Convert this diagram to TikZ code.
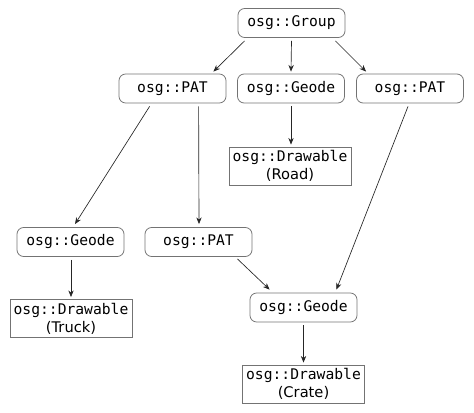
\documentclass[tikz,border=0pt]{standalone}
\usepackage{fontspec}
\setmainfont{DejaVu Sans}
\setmonofont{DejaVu Sans Mono}
\usetikzlibrary{calc,arrows.meta}
\begin{document}
\begin{tikzpicture}[x=0.75pt,y=-0.75pt,
  nd/.style={draw=black!55, line width=0.6pt, rounded corners=5pt, minimum width=80.25pt, minimum height=21.75pt, inner sep=0pt, font=\ttfamily\fontsize{11pt}{13.5pt}\selectfont},
  dr/.style={draw=black!55, line width=0.6pt, minimum width=91.5pt, minimum height=28.5pt, inner sep=0pt, align=center, font=\fontsize{11pt}{13.5pt}\selectfont},
  arr/.style={draw=black!85, line width=0.5pt, -{Stealth[length=5pt,width=4pt]}}]
\useasboundingbox (0,0) rectangle (474,413);
\node[nd] (grp) at (291.5,23) {osg::Group};
\node[nd] (pat1) at (172.5,88.5) {osg::PAT};
\node[nd] (geo1) at (291,88.5) {osg::Geode};
\node[nd] (pat2) at (410,88.5) {osg::PAT};
\node[dr] (road) at (290,166) {\texttt{osg::Drawable}\\(Road)};
\node[nd] (geo2) at (70.5,242) {osg::Geode};
\node[nd] (pat3) at (198.5,242) {osg::PAT};
\node[dr] (truck) at (71,318.5) {\texttt{osg::Drawable}\\(Truck)};
\node[nd] (geo3) at (303.5,307.5) {osg::Geode};
\node[dr] (crate) at (303.5,384) {\texttt{osg::Drawable}\\(Crate)};
\draw[arr] ($(grp.south west)+(7,3)$) -- ($(pat1.north east)+(-13,-2)$);
\draw[arr] ($(grp.south)+(0,3)$) -- ($(geo1.north)+(0,-2)$);
\draw[arr] ($(grp.south east)+(-10,3)$) -- ($(pat2.north west)+(10,-2)$);
\draw[arr] ($(pat1.south west)+(31,3)$) -- ($(geo2.north)+(4.5,-3)$);
\draw[arr] ($(pat1.south west)+(80,3)$) -- ($(pat3.north)+(0.5,-3)$);
\draw[arr] ($(pat2.south)+(-2,3)$) -- ($(geo3.north east)+(-21,-3)$);
\draw[arr] ($(pat3.south east)+(-15,2)$) -- ($(geo3.north west)+(20,-3)$);
\draw[arr] ($(geo1.south)+(0,3)$) -- ($(road.north)+(1,-2)$);
\draw[arr] ($(geo2.south)+(0.5,3)$) -- ($(truck.north)+(0,-2)$);
\draw[arr] ($(geo3.south)+(0,3)$) -- ($(crate.north)+(0,-2)$);
\end{tikzpicture}
\end{document}
